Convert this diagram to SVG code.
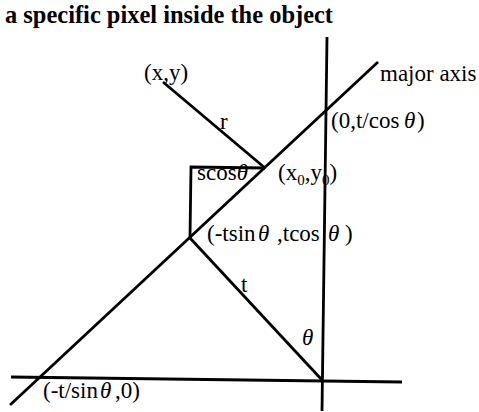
<svg xmlns="http://www.w3.org/2000/svg" width="479" height="412" viewBox="0 0 479 412">
<style>
.ln{stroke:#000;stroke-width:2.8;fill:none;stroke-linecap:butt}
text{font-family:"Liberation Serif","Times New Roman",serif;font-size:23px;fill:#000}
.title{font-size:25px;font-weight:bold}
.g{font-style:italic}
.sub{font-size:15px}
</style>
<rect width="479" height="412" fill="#fff"/>
<text class="title" x="5" y="23" textLength="328" lengthAdjust="spacingAndGlyphs">a specific pixel inside the object</text>
<g id="connectors">
<line class="ln" x1="327" y1="37" x2="322" y2="411"/>
<line class="ln" x1="11" y1="377" x2="402" y2="382"/>
<line class="ln" x1="10" y1="405" x2="378" y2="62"/>
<line class="ln" x1="190" y1="238" x2="322" y2="380"/>
<line class="ln" x1="163" y1="82" x2="265" y2="168"/>
<polyline class="ln" points="190,238 191,167 265,168"/>
</g>
<g id="node-xy"><text x="144" y="80">(x,y)</text></g>
<g id="node-r"><text x="220" y="129">r</text></g>
<g id="node-major"><text x="380" y="81">major axis</text></g>
<g id="node-0t"><text x="331" y="128">(0,t/cos<tspan class="g" x="404">θ</tspan><tspan x="417">)</tspan></text></g>
<g id="node-scos"><text x="197" y="180">scos<tspan class="g">θ</tspan></text></g>
<g id="node-x0y0"><text x="278" y="180">(x<tspan class="sub" dy="5">0</tspan><tspan dy="-5">,y</tspan><tspan class="sub" dy="5">0</tspan><tspan dy="-5">)</tspan></text></g>
<g id="node-tsin"><text x="207" y="241">(-tsin<tspan class="g" x="258">θ</tspan><tspan x="277">,tcos</tspan><tspan class="g" x="328">θ</tspan><tspan x="345">)</tspan></text></g>
<g id="node-t"><text x="241" y="292">t</text></g>
<g id="node-theta"><text class="g" x="302" y="345">θ</text></g>
<g id="node-tsin0"><text x="43" y="398">(-t/sin<tspan class="g" x="100">θ</tspan><tspan x="115">,0)</tspan></text></g>
</svg>
